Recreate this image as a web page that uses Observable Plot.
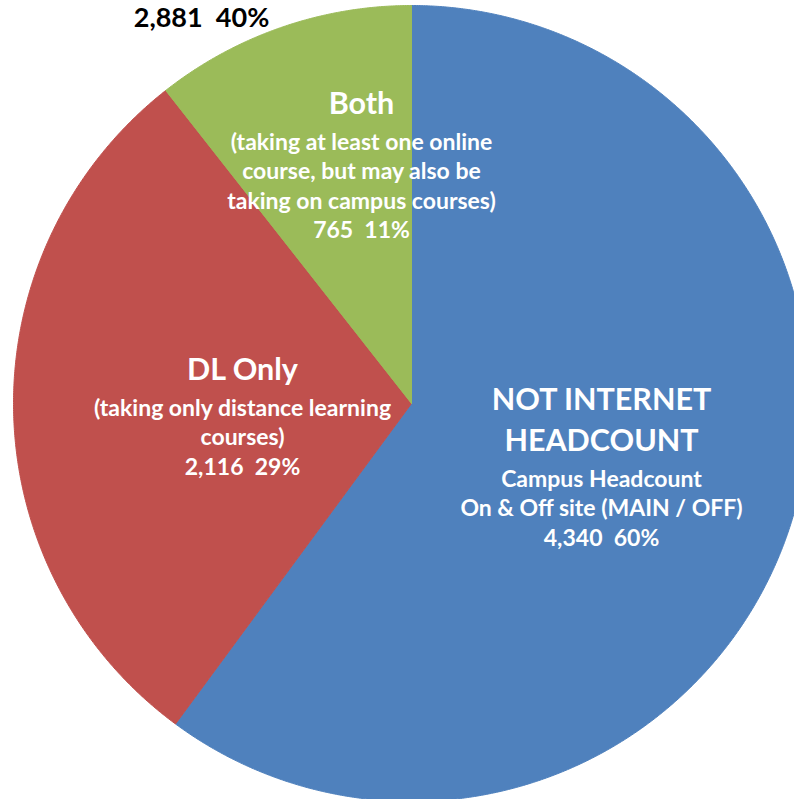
<!DOCTYPE html>
<html>
<head>
<meta charset="utf-8">
<script src="https://cdn.jsdelivr.net/npm/d3@7"></script>
<script src="https://cdn.jsdelivr.net/npm/@observablehq/plot@0.6"></script>
<style>
  html, body { margin: 0; padding: 0; background: #fff; overflow: hidden; }
  #chart svg { display: block; }
</style>
</head>
<body>
<div id="chart"></div>
<script>
// ---- data ----
const categories = ["NOT INTERNET HEADCOUNT", "DL Only", "Both"];
const counts = [4340, 2116, 765];
const percents = [60, 29, 11];
const titleLines = [["NOT INTERNET", "HEADCOUNT"], ["DL Only"], ["Both"]];
const descLines = [
  ["Campus Headcount", "On & Off site (MAIN / OFF)"],
  ["(taking only distance learning", "courses)"],
  ["(taking at least one online", "course, but may also be", "taking on campus courses)"]
];
const internetCount = 2881;   // DL Only + Both
const internetPercent = 40;

// ---- style / layout ----
const colors = ["#4F81BD", "#C0504D", "#9BBB59"];
const W = 794, H = 799;
const cx = 411, cy = 403, R = 398;
const font = "Lato, 'Open Sans', sans-serif";
const titleSize = 30.5, subSize = 23;
const titleStep = 41, gapTitleSub = 38, subStep = 29.5;
const labelAnchor = [{x: 601, y: 400}, {x: 242, y: 370}, {x: 361, y: 104}];
const totalAnchor = {x: 201, y: 18};

const fmt = d3.format(",");
const arcs = d3.pie().sort(null).startAngle(0).endAngle(2 * Math.PI)(counts);

function slicePoints(a, i) {
  const pts = [{x: cx, y: cy, s: i}];
  const n = Math.max(2, Math.ceil((a.endAngle - a.startAngle) / (Math.PI / 720)));
  for (let k = 0; k <= n; k++) {
    const t = a.startAngle + (a.endAngle - a.startAngle) * k / n;
    pts.push({x: cx + R * Math.sin(t), y: cy - R * Math.cos(t), s: i});
  }
  pts.push({x: cx, y: cy, s: i});
  return pts;
}

const sliceMarks = arcs.map((a, i) =>
  Plot.line(slicePoints(a, i), {x: "x", y: "y", fill: colors[i], stroke: colors[i], strokeWidth: 1})
);

// build label rows
const titleRows = [], subRows = [];
categories.forEach((c, i) => {
  const a = labelAnchor[i];
  let y = a.y;
  titleLines[i].forEach((t, j) => {
    titleRows.push({x: a.x, y: y, text: t});
    if (j < titleLines[i].length - 1) y += titleStep;
  });
  y += gapTitleSub;
  const lines = descLines[i].concat([`${fmt(counts[i])}  ${percents[i]}%`]);
  lines.forEach((t, j) => {
    subRows.push({x: a.x, y: y + j * subStep, text: t});
  });
});

const chart = Plot.plot({
  width: W, height: H, margin: 0,
  x: {domain: [0, W], range: [0, W], axis: null},
  y: {domain: [0, H], range: [0, H], axis: null},
  marks: [
    ...sliceMarks,
    Plot.text(titleRows, {x: "x", y: "y", text: "text", fill: "white", fontSize: titleSize, fontWeight: "bold", fontFamily: font, textAnchor: "middle"}),
    Plot.text(subRows, {x: "x", y: "y", text: "text", fill: "white", fontSize: subSize, fontWeight: "bold", fontFamily: font, textAnchor: "middle"}),
    Plot.text([{x: totalAnchor.x, y: totalAnchor.y, text: `${fmt(internetCount)}  ${internetPercent}%`}],
      {x: "x", y: "y", text: "text", fill: "black", fontSize: 27, fontWeight: "bold", fontFamily: font, textAnchor: "middle"})
  ]
});
document.getElementById("chart").appendChild(chart);
</script>
</body>
</html>
